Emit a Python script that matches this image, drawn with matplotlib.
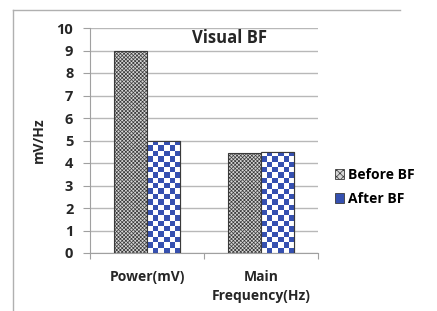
import numpy as np
import matplotlib.pyplot as plt
from matplotlib.lines import Line2D
from matplotlib.patches import Patch
from matplotlib.colors import ListedColormap

# data
categories = ['Power(mV)', 'Main\nFrequency(Hz)']
before_bf = [9.0, 4.45]
after_bf = [5.0, 4.5]
series_names = ['Before BF', 'After BF']
y_ticks = list(range(0, 11))

blue = '#3550b0'
txt = '#262626'
plt.rcParams['font.family'] = ['Open Sans', 'DejaVu Sans']
plt.rcParams['font.weight'] = 'bold'
plt.rcParams['hatch.color'] = '#707070'
plt.rcParams['hatch.linewidth'] = 0.5

fig = plt.figure(figsize=(4.37, 3.11), dpi=100)
ax = fig.add_axes([90 / 437, 58 / 311, 228 / 437, 225 / 311])

x = np.arange(len(categories))
w = 0.29
bars_before = ax.bar(x - w / 2, before_bf, w, facecolor='#d6d6d6', hatch='xxxxxxxxx',
                     edgecolor='#3a3a3a', linewidth=0.8, zorder=3)
bars_after = ax.bar(x + w / 2, after_bf, w, facecolor='white',
                    edgecolor='#3a3a3a', linewidth=0.8, zorder=3)

# checkerboard fill for the "After BF" bars, clipped to each bar
checker = np.indices((40, 12)).sum(axis=0) % 2
cmap = ListedColormap(['white', blue])
for b in bars_after:
    x0, y0, bw, bh = b.get_x(), b.get_y(), b.get_width(), b.get_height()
    n_rows = int(round(bh * 22.5 / 5.3))
    img = ax.imshow(checker[:n_rows, :6], cmap=cmap, interpolation='nearest',
                    extent=[x0, x0 + bw, y0, y0 + bh], origin='lower',
                    aspect='auto', zorder=3.5)
    img.set_clip_path(b)
    edge = plt.Rectangle((x0, y0), bw, bh, fill=False, edgecolor='#3a3a3a',
                         linewidth=0.8, zorder=4)
    ax.add_patch(edge)

ax.set_xlim(-0.5, 1.5)
ax.set_ylim(0, 10)
ax.set_yticks(y_ticks)
ax.set_yticklabels([str(t) for t in y_ticks], fontsize=10.5, fontweight='bold', color=txt)
ax.set_xticks([-0.5, 0.5, 1.5], minor=False)
ax.set_xticklabels(['', '', ''])
ax.set_xticks(x, minor=True)
ax.set_xticklabels(categories, minor=True, fontsize=10, fontweight='bold', color=txt,
                   linespacing=1.45)
ax.tick_params(axis='x', which='minor', length=0, pad=12)
ax.tick_params(axis='x', which='major', length=4, color='#a0a0a0')
ax.tick_params(axis='y', length=5, color='#a0a0a0', pad=7)
ax.grid(axis='y', color='#b8b8b8', linewidth=1, zorder=0)
ax.set_axisbelow(True)
for s in ['top', 'right']:
    ax.spines[s].set_visible(False)
ax.spines['left'].set_color('#a0a0a0')
ax.spines['bottom'].set_color('#a0a0a0')

ax.set_ylabel('mV/Hz', fontsize=10, fontweight='bold', color=txt, labelpad=8)

fig.text(229 / 437, 1 - 38 / 311, 'Visual BF', ha='center', va='center',
         fontsize=12, fontweight='bold', color=txt)

handles = [Patch(facecolor='#d6d6d6', hatch='xxxxx', edgecolor='#3a3a3a', linewidth=0.6),
           Patch(facecolor=blue, edgecolor='#3a3a3a', linewidth=0.6)]
fig.legend(handles, series_names, loc='center left', bbox_to_anchor=(322 / 437, 1 - 187 / 311),
           frameon=False, handlelength=0.7, handleheight=0.7,
           handletextpad=0.3, labelspacing=0.7, prop={'weight': 'bold', 'size': 10})

# chart area frame
fig.add_artist(Line2D([13 / 437, 13 / 437], [0, 1 - 10 / 311], color='#b0b0b0', linewidth=1))
fig.add_artist(Line2D([13 / 437, 400 / 437], [1 - 10 / 311, 1 - 10 / 311], color='#b0b0b0', linewidth=1))

fig.savefig('out.png', dpi=100)
